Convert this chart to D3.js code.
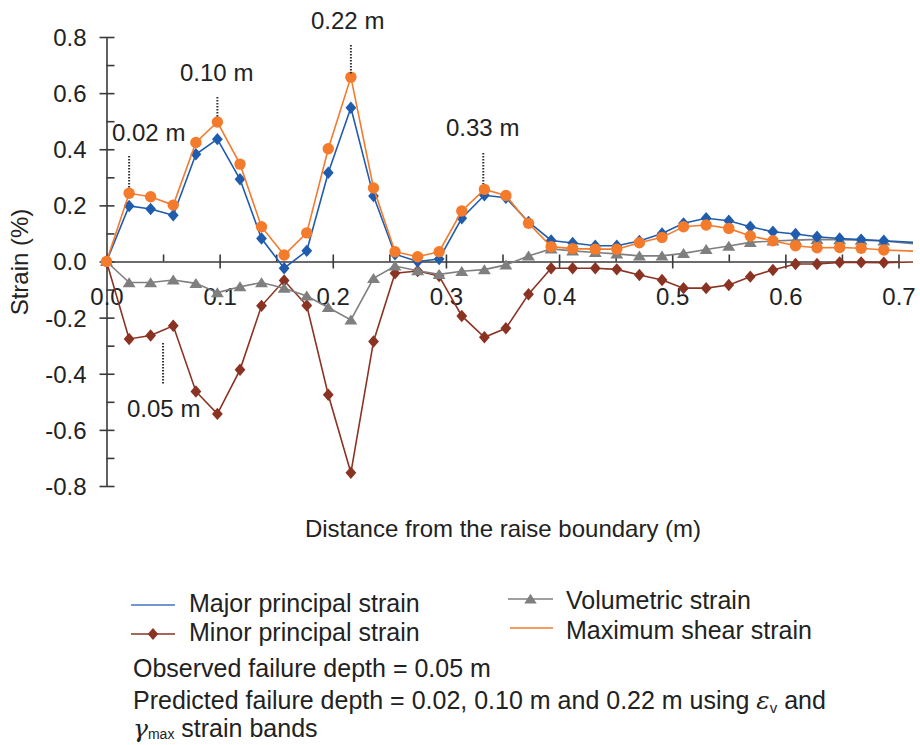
<!DOCTYPE html>
<html>
<head>
<meta charset="utf-8">
<script src="https://d3js.org/d3.v7.min.js"></script>
<style>
  body { margin: 0; background: #fff; }
  svg text { font-family: "Liberation Sans", Arial, sans-serif; fill: #222; }
</style>
</head>
<body>
<div id="chart"></div>
<script>

// distance from the raise boundary (m); the last value is where the lines leave the plot
var distance = [0, 0.020, 0.039, 0.059, 0.079, 0.098, 0.118, 0.137, 0.157, 0.177,
    0.196, 0.216, 0.236, 0.255, 0.275, 0.294, 0.314, 0.334, 0.353, 0.373,
    0.393, 0.412, 0.432, 0.451, 0.471, 0.491, 0.510, 0.530, 0.550, 0.569,
    0.589, 0.609, 0.628, 0.648, 0.667, 0.687, 0.713];

// strain (%)
var majorStrain = [0, 0.198, 0.187, 0.165, 0.382, 0.436, 0.293, 0.082, -0.024, 0.038,
    0.316, 0.548, 0.233, 0.026, 0.0, 0.009, 0.154, 0.236, 0.227, 0.141,
    0.075, 0.066, 0.056, 0.056, 0.073, 0.100, 0.136, 0.154, 0.145, 0.124,
    0.106, 0.098, 0.088, 0.082, 0.078, 0.074, 0.068];
var minorStrain = [0, -0.276, -0.264, -0.229, -0.463, -0.543, -0.386, -0.158, -0.068, -0.157,
    -0.475, -0.753, -0.285, -0.042, -0.034, -0.052, -0.194, -0.270, -0.238, -0.117,
    -0.024, -0.024, -0.024, -0.028, -0.048, -0.066, -0.095, -0.095, -0.084, -0.054,
    -0.030, -0.009, -0.009, -0.003, -0.003, -0.004, -0.002];
var volumetricStrain = [0, -0.075, -0.075, -0.066, -0.078, -0.111, -0.090, -0.075, -0.095, -0.123,
    -0.164, -0.208, -0.060, -0.016, -0.033, -0.046, -0.035, -0.029, -0.012, 0.020,
    0.045, 0.038, 0.032, 0.027, 0.020, 0.020, 0.029, 0.043, 0.055, 0.068,
    0.073, 0.076, 0.079, 0.078, 0.076, 0.073, 0.063];
var shearStrain = [0, 0.243, 0.231, 0.201, 0.424, 0.497, 0.347, 0.124, 0.023, 0.102,
    0.402, 0.657, 0.262, 0.035, 0.017, 0.035, 0.180, 0.257, 0.235, 0.136,
    0.053, 0.046, 0.044, 0.044, 0.067, 0.086, 0.124, 0.130, 0.118, 0.091,
    0.074, 0.056, 0.049, 0.050, 0.047, 0.041, 0.037];

var seriesNames = ["Major principal strain", "Minor principal strain", "Volumetric strain", "Maximum shear strain"];

// tick values
var yTicks = [-0.8, -0.7, -0.6, -0.5, -0.4, -0.3, -0.2, -0.1, 0, 0.1, 0.2, 0.3, 0.4, 0.5, 0.6, 0.7, 0.8];
var yLabelled = [-0.8, -0.6, -0.4, -0.2, 0, 0.2, 0.4, 0.6, 0.8];
var xTicks = [0, 0.05, 0.1, 0.15, 0.2, 0.25, 0.3, 0.35, 0.4, 0.45, 0.5, 0.55, 0.6, 0.65, 0.7];
var xLabelled = [0, 0.1, 0.2, 0.3, 0.4, 0.5, 0.6, 0.7];

// failure depth marks
var depthMarks = ["0.02 m", "0.10 m", "0.22 m", "0.33 m", "0.05 m"];
var depthValues = [0.02, 0.098, 0.216, 0.333, 0.05];

var W = 920, H = 745;
var svg = d3.select("#chart").append("svg")
    .attr("width", W)
    .attr("height", H);

var x = d3.scaleLinear().domain([0, 0.7]).range([106.5, 898.5]);
var y = d3.scaleLinear().domain([-0.8, 0.8]).range([486, 37]);

var axisColor = "#3a3a3a";

function isIn(list, d) {
    return list.some(function (v) { return Math.abs(v - d) < 1e-9; });
}

// y axis
var yAxis = svg.append("g")
    .attr("transform", "translate(" + x(0) + ",0)")
    .call(d3.axisLeft(y).tickValues(yTicks).tickSizeOuter(0)
        .tickFormat(function (d) { return isIn(yLabelled, d) ? d.toFixed(1) : ""; }));
yAxis.select(".domain").attr("stroke", axisColor).attr("stroke-width", 1.6);
yAxis.selectAll(".tick line")
    .attr("stroke", axisColor).attr("stroke-width", 1.6)
    .attr("x1", function (d) { return isIn(yLabelled, d) ? -7 : 0; })
    .attr("x2", 8);
yAxis.selectAll(".tick text")
    .attr("x", -20)
    .attr("dy", "0.35em")
    .style("font-size", "24px");

// x axis
var xAxis = svg.append("g")
    .attr("transform", "translate(0," + y(0) + ")")
    .call(d3.axisBottom(x).tickValues(xTicks).tickSizeOuter(0)
        .tickFormat(function (d) { return isIn(xLabelled, d) ? d.toFixed(1) : ""; }));
xAxis.select(".domain").attr("stroke", axisColor).attr("stroke-width", 1.6);
xAxis.selectAll(".tick line")
    .attr("stroke", axisColor).attr("stroke-width", 1.6)
    .attr("y1", -7)
    .attr("y2", function (d) { return isIn(xLabelled, d) ? 7 : 0; });
xAxis.selectAll(".tick text")
    .attr("y", 35)
    .attr("dy", "0.35em")
    .style("font-size", "24px");
svg.selectAll(".tick text").attr("fill", "#222").style("font-family", "'Liberation Sans', Arial, sans-serif");

// axis titles
svg.append("text")
    .attr("x", 503).attr("y", 537)
    .attr("text-anchor", "middle")
    .style("font-size", "24px")
    .text("Distance from the raise boundary (m)");
svg.append("text")
    .attr("transform", "translate(28,262) rotate(-90)")
    .attr("text-anchor", "middle")
    .style("font-size", "24px")
    .text("Strain (%)");

// markers
function diamond(s) {
    return "M0," + (-s * 1.15) + "L" + s + ",0L0," + (s * 1.15) + "L" + (-s) + ",0Z";
}
function triangle(s) {
    return "M0," + (-s) + "L" + (s * 1.2) + "," + (s * 0.85) + "L" + (-s * 1.2) + "," + (s * 0.85) + "Z";
}

var series = [
    { name: seriesNames[1], values: minorStrain, color: "#8B3323", marker: "diamond" },
    { name: seriesNames[2], values: volumetricStrain, color: "#7F7F7F", marker: "triangle" },
    { name: seriesNames[0], values: majorStrain, color: "#1F5CAE", marker: "diamond" },
    { name: seriesNames[3], values: shearStrain, color: "#F47A2C", marker: "circle" }
];

svg.append("clipPath").attr("id", "plotclip")
    .append("rect").attr("x", 90).attr("y", 0).attr("width", 823).attr("height", 520);

var plot = svg.append("g").attr("clip-path", "url(#plotclip)");

var line = d3.line()
    .x(function (d) { return x(d.d); })
    .y(function (d) { return y(d.v); });

series.forEach(function (s) {
    var pts = distance.map(function (d, i) { return { d: d, v: s.values[i] }; });
    plot.append("path")
        .datum(pts)
        .attr("fill", "none")
        .attr("stroke", s.color)
        .attr("stroke-width", 1.6)
        .attr("d", line);
    var mk = plot.selectAll(null)
        .data(pts.filter(function (p) { return p.d <= 0.7; }))
        .enter();
    if (s.marker === "circle") {
        mk.append("circle")
            .attr("cx", function (p) { return x(p.d); })
            .attr("cy", function (p) { return y(p.v); })
            .attr("r", 5.7)
            .attr("fill", s.color);
    } else {
        mk.append("path")
            .attr("transform", function (p) { return "translate(" + x(p.d) + "," + y(p.v) + ")"; })
            .attr("d", s.marker === "diamond" ? diamond(5.4) : triangle(5.4))
            .attr("fill", s.color);
    }
});

// failure depth annotations
var markTop = [156, 97, 45, 153, 343];
var markBottom = [189, 117, 74, 184, 384];
var labelX = [112, 180, 311, 446, 127];
var labelY = [133, 73, 21, 128, 409];
depthValues.forEach(function (v, i) {
    svg.append("line")
        .attr("x1", x(v)).attr("x2", x(v))
        .attr("y1", markTop[i]).attr("y2", markBottom[i])
        .attr("stroke", "#333")
        .attr("stroke-width", 2)
        .attr("stroke-dasharray", "1.5,1.5");
    svg.append("text")
        .attr("x", labelX[i]).attr("y", labelY[i])
        .attr("dy", "0.35em")
        .style("font-size", "24px")
        .text(depthMarks[i]);
});

// legend
var legend = svg.append("g");
var legendItems = [
    { s: series[2], x1: 131, x2: 175, ly: 605, tx: 189, ty: 603, marker: false, color: "#4275C4" },
    { s: series[0], x1: 131, x2: 175, ly: 634, tx: 189, ty: 632, marker: true },
    { s: series[1], x1: 508, x2: 553, ly: 599, tx: 566, ty: 600, marker: true },
    { s: series[3], x1: 510, x2: 553, ly: 628, tx: 566, ty: 630, marker: false }
];
legendItems.forEach(function (it) {
    legend.append("line")
        .attr("x1", it.x1).attr("x2", it.x2)
        .attr("y1", it.ly).attr("y2", it.ly)
        .attr("stroke", it.color || it.s.color)
        .attr("stroke-width", 1.6);
    if (it.marker) {
        legend.append("path")
            .attr("transform", "translate(" + ((it.x1 + it.x2) / 2) + "," + it.ly + ")")
            .attr("d", it.s.marker === "diamond" ? diamond(5.2) : triangle(5.2))
            .attr("fill", it.s.color);
    }
    legend.append("text")
        .attr("x", it.tx).attr("y", it.ty)
        .attr("dy", "0.35em")
        .style("font-size", "25px")
        .text(it.s.name);
});

// notes
svg.append("text")
    .attr("x", 133).attr("y", 668).attr("dy", "0.35em")
    .style("font-size", "25px")
    .text("Observed failure depth = 0.05 m");

var note2 = svg.append("text")
    .attr("x", 133).attr("y", 700).attr("dy", "0.35em")
    .style("font-size", "25px");
note2.append("tspan").text("Predicted failure depth = 0.02, 0.10 m and 0.22 m using ");
note2.append("tspan").style("font-style", "italic").style("font-family", "'DejaVu Serif', serif").text("ε");
note2.append("tspan").attr("dy", "4").style("font-size", "15px").text("v");
note2.append("tspan").attr("dy", "-4").text(" and");

var note3 = svg.append("text")
    .attr("x", 133).attr("y", 728).attr("dy", "0.35em")
    .style("font-size", "25px");
note3.append("tspan").style("font-style", "italic").style("font-family", "'DejaVu Serif', serif").text("γ");
note3.append("tspan").attr("dy", "2").style("font-size", "14px").text("max");
note3.append("tspan").attr("dy", "-2").text(" strain bands");

</script>
</body>
</html>
